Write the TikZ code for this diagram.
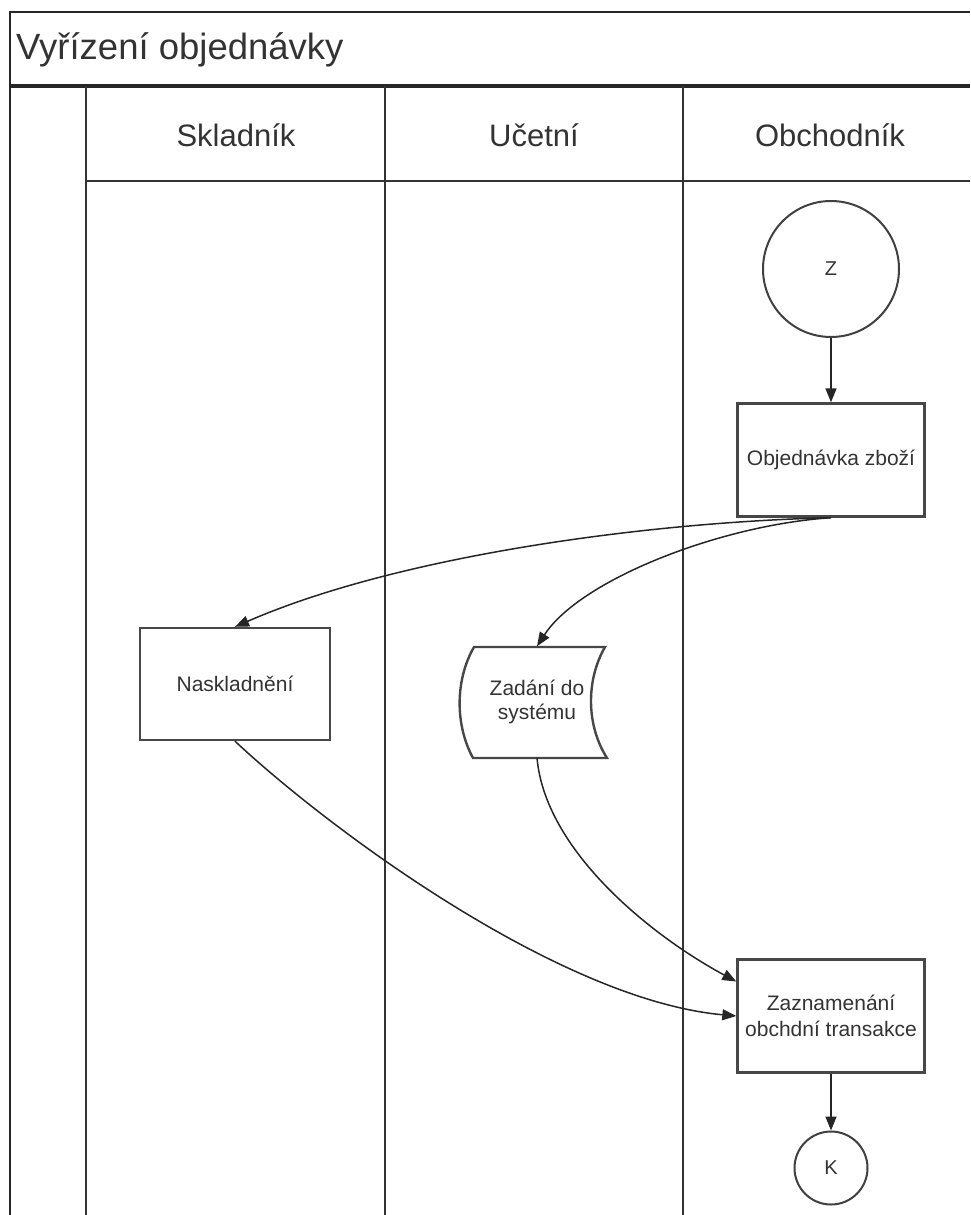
\documentclass[tikz,border=0pt]{standalone}
\usepackage{fontspec}
\setmainfont{Liberation Sans}
\usetikzlibrary{arrows.meta}

\begin{document}
\begin{tikzpicture}[x=1pt,y=-1pt,
  frameline/.style={draw=black!85, line width=2.8pt},
  laneline/.style={draw=black!80, line width=2.2pt},
  title/.style={font=\fontsize{36.5}{40}\selectfont, text=black!80, inner sep=0, anchor=west},
  lanelabel/.style={font=\fontsize{31}{34}\selectfont, text=black!80, inner sep=0},
  stepbox/.style={draw=black!72, line width=2.4pt, fill=white, minimum width=187pt,
    minimum height=113pt, inner sep=0, align=center, text=black!80,
    font=\fontsize{21}{25.5}\selectfont},
  terminal/.style={circle, draw=black!75, line width=2pt, fill=white, inner sep=0,
    text=black!80, font=\fontsize{20}{24}\selectfont},
  datatext/.style={inner sep=0, align=center, text=black!80, minimum width=145pt,
    minimum height=111pt, font=\fontsize{21}{23.5}\selectfont},
  flow/.style={draw=black!85, line width=1.5pt, -{Triangle[length=14pt,width=11pt]}}
]
\useasboundingbox (0,0) rectangle (970,1215);

% pool frame with title band
\draw[frameline] (970,12) -- (10,12) -- (10,1215);
\draw[frameline, line width=3.4pt] (10,86) -- (970,86);
\node[title] (ttl) at (16,50) {Vyřízení objednávky};

% lane headers and dividers
\draw[laneline] (86,86) -- (86,1215);
\draw[laneline] (385,86) -- (385,1215);
\draw[laneline] (683,86) -- (683,1215);
\draw[laneline] (86,181) -- (970,181);
\node[lanelabel] (l1) at (236,135) {Skladník};
\node[lanelabel] (l2) at (534,135) {Učetní};
\node[lanelabel] (l3) at (830,135) {Obchodník};

% flow elements
\node[terminal, minimum size=136pt] (z) at (831,269) {Z};
\node[stepbox] (obj) at (831,460) {Objednávka zboží};
\node[stepbox, minimum width=190pt, minimum height=112pt] (nask) at (235,684) {Naskladnění};
\node[datatext] (zad) at (537,702) {Zadání do\\systému};
\node[stepbox] (zaz) at (831,1016) {Zaznamenání\\obchdní transakce};
\node[terminal, minimum size=73pt] (k) at (831,1168) {K};

% stored-data outline around the data step
\draw[draw=black!72, line width=2.4pt]
  (474,647) -- (605,647)
  .. controls (586,680) and (586,725) .. (607,758)
  -- (473,758)
  .. controls (455,725) and (455,680) .. (474,647) -- cycle;

% connectors
\draw[flow] (z.south) -- (obj.north);
\draw[flow] (obj.south) .. controls (650,522) and (400,555) .. (nask.north);
\draw[flow] (obj.south) .. controls (720,525) and (580,580) .. (zad.north);
\draw[flow] (nask.south) .. controls (330,830) and (560,1000) .. (zaz.west);
\draw[flow] (zad.south) .. controls (545,850) and (650,935) .. (zaz.160);
\draw[flow] (zaz.south) -- (k.north);
\end{tikzpicture}
\end{document}
